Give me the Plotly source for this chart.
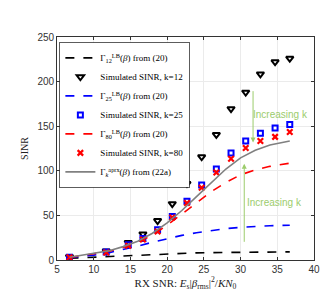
import plotly.graph_objects as go

# ---- data ----
snr_pts = [6.7, 11.7, 14.7, 16.7, 18.7, 20.7, 22.7, 24.7, 26.7, 28.7, 30.7, 32.7, 34.7, 36.7]
sim_k12 = [3.5, 10, 19.5, 29, 44, 63, 85.5, 115.5, 140.5, 169.5, 188, 208.5, 222, 226]
sim_k25 = [3, 9, 17, 24, 34, 48.7, 66, 84, 102, 120, 133.5, 142, 148, 152]
sim_k80 = [3, 8.5, 16, 23, 32, 47.6, 64, 81, 98, 113.6, 125.5, 133.5, 138, 143.6]

snr_line = [6.7, 8, 10, 12, 14, 16, 18, 20, 22, 24, 26, 28, 30, 32, 34, 36.7]
lb_k12 = [2.0, 2.5, 3.2, 4.0, 4.9, 5.7, 6.4, 7.1, 7.6, 8.0, 8.3, 8.6, 8.8, 8.9, 9.0, 9.1]
lb_k25 = [2.5, 3.6, 5.5, 8.0, 11.5, 15.5, 20.0, 24.0, 27.6, 30.6, 33.2, 35.2, 36.6, 37.6, 38.4, 39.0]
lb_k80 = [2.8, 4.2, 7.0, 9.6, 14.0, 20.0, 28.0, 39.0, 51.5, 64.5, 76.5, 87.0, 95.5, 101.0, 105.0, 108.5]
aprx = [3.0, 4.5, 7.5, 10.2, 15.0, 21.0, 30.0, 41.5, 55.5, 71.0, 87.0, 102.0, 114.5, 123.0, 129.0, 133.5]

arrow_x = [31.7, 30.5]
arrow_tail = [191, 18.7]
arrow_head = [131.7, 108]
label_x = [35.5, 34.6]
label_y = [163, 64]
label_text = ["Increasing k", "Increasing k"]

xticks = [5, 10, 15, 20, 25, 30, 35, 40]
yticks = [0, 50, 100, 150, 200, 250]

SERIF = "Liberation Serif"
SANS = "Liberation Sans"
GREEN = "#9ccc6c"

fig = go.Figure()
fig.add_trace(go.Scatter(x=snr_line, y=lb_k12, mode="lines",
                         line=dict(color="black", width=1.6, dash="dash"),
                         name="Γ<sub>12</sub><sup>LB</sup>(<i>β</i>) from (20)"))
fig.add_trace(go.Scatter(x=snr_pts, y=sim_k12, mode="markers",
                         marker=dict(symbol="triangle-down-open", size=6.5, color="black",
                                     line=dict(width=2, color="black")),
                         name="Simulated SINR, k=12"))
fig.add_trace(go.Scatter(x=snr_line, y=lb_k25, mode="lines",
                         line=dict(color="#0000ff", width=1.6, dash="dash"),
                         name="Γ<sub>25</sub><sup>LB</sup>(<i>β</i>) from (20)"))
fig.add_trace(go.Scatter(x=snr_pts, y=sim_k25, mode="markers",
                         marker=dict(symbol="square-open", size=5, color="#0000ff",
                                     line=dict(width=2, color="#0000ff")),
                         name="Simulated SINR, k=25"))
fig.add_trace(go.Scatter(x=snr_line, y=lb_k80, mode="lines",
                         line=dict(color="#ff0000", width=1.6, dash="dash"),
                         name="Γ<sub>80</sub><sup>LB</sup>(<i>β</i>) from (20)"))
fig.add_trace(go.Scatter(x=snr_pts, y=sim_k80, mode="markers",
                         marker=dict(symbol="x-thin-open", size=5.5, color="#ff0000",
                                     line=dict(width=2.2, color="#ff0000")),
                         name="Simulated SINR, k=80"))
fig.add_trace(go.Scatter(x=snr_line, y=aprx, mode="lines",
                         line=dict(color="#808080", width=1.6),
                         name="Γ<sub><i>k</i></sub><sup>aprx</sup>(<i>β</i>) from (22a)"))

for ax_, t_, h_ in zip(arrow_x, arrow_tail, arrow_head):
    fig.add_annotation(x=ax_, y=h_, ax=ax_, ay=t_, xref="x", yref="y", axref="x", ayref="y",
                       showarrow=True, arrowhead=2, arrowsize=1, arrowwidth=1,
                       arrowcolor=GREEN, text="")
for lx, ly, lt in zip(label_x, label_y, label_text):
    fig.add_annotation(x=lx, y=ly, xref="x", yref="y", text=lt, showarrow=False,
                       font=dict(family=SANS, size=10, color=GREEN))

axis_common = dict(showgrid=True, gridcolor="#ebebeb", gridwidth=1,
                   showline=True, linecolor="#333333", linewidth=0.8, mirror="ticks",
                   ticks="inside", ticklen=3, tickcolor="#333333",
                   tickfont=dict(family=SANS, size=10, color="#333333"),
                   zeroline=False)

fig.update_layout(
    width=332, height=291,
    margin=dict(l=49, r=26, t=29, b=31),
    paper_bgcolor="white", plot_bgcolor="white",
    showlegend=True,
    legend=dict(x=0.01, y=0.975, xanchor="left", yanchor="top",
                bgcolor="white", bordercolor="#333333", borderwidth=0.8,
                font=dict(family=SERIF, size=9, color="black"),
                tracegroupgap=0, itemwidth=30),
    xaxis=dict(range=[5, 40], tickvals=xticks,
               title=dict(text="RX SNR: <i>E</i><sub>s</sub>|<i>β</i><sub>rms</sub>|<sup>2</sup>/<i>KN</i><sub>0</sub>",
                          font=dict(family=SERIF, size=11, color="#222222"), standoff=4),
               **axis_common),
    yaxis=dict(range=[0, 250], tickvals=yticks,
               title=dict(text="SINR", font=dict(family=SERIF, size=10, color="#222222"), standoff=6),
               **axis_common),
)

fig.write_html("out.html")
